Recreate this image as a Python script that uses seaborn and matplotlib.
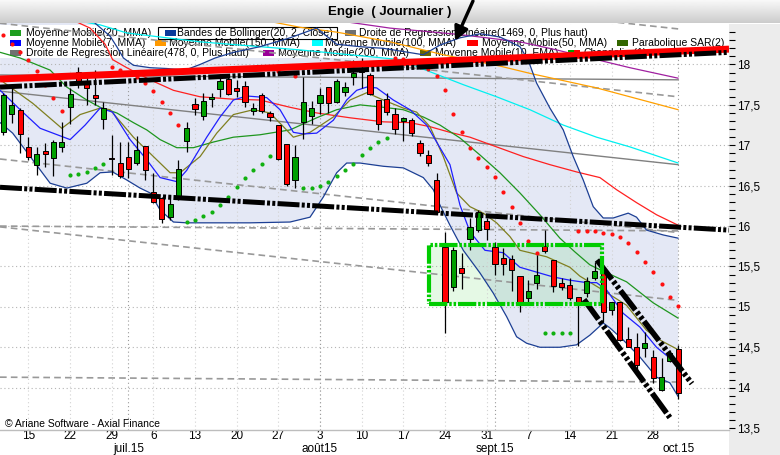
import numpy as np
import matplotlib
matplotlib.use("Agg")
import matplotlib.pyplot as plt
import matplotlib.transforms as mtransforms
from matplotlib.patches import Rectangle
from matplotlib.ticker import FuncFormatter
import seaborn as sns

sns.set_theme(style="white")
plt.rcParams["font.family"] = ["Liberation Sans", "DejaVu Sans"]

# ---------------- daily sessions (index 0 = 10 June 2015) ----------------
opens = [17.16, 17.39, 17.44, 16.98, 16.76, 16.93, 16.84, 16.98, 17.47, 17.91,
         17.78, 17.62, 17.33, 16.84, 16.78, 16.86, 16.78, 16.99, 16.42, 16.35,
         16.11, 16.34, 17.05, 17.51, 17.36, 17.57, 17.70, 17.82, 17.71, 17.73,
         17.42, 17.62, 17.40, 17.25, 17.02, 16.57, 17.29, 17.36, 17.52, 17.72,
         17.54, 17.66, 17.85, 17.96, 17.87, 17.56, 17.57, 17.39, 17.30, 17.31,
         17.03, 16.88, 16.57, 15.74, 15.25, 15.48, 15.84, 15.95, 16.06, 15.74,
         15.61, 15.59, 15.38, 15.11, 15.30, 15.75, 15.58, 15.30, 15.27, 15.12,
         15.17, 15.36, 15.42, 14.96, 15.06, 14.60, 14.50, 14.49, 14.38, 13.97,
         14.33, 14.48]
highs = [17.65, 17.75, 17.46, 17.10, 16.98, 17.03, 17.07, 17.29, 17.71, 17.97,
         17.91, 17.93, 17.54, 17.13, 17.04, 17.04, 17.12, 16.99, 16.66, 16.36,
         16.38, 16.82, 17.29, 17.59, 17.65, 17.65, 17.88, 17.85, 17.81, 17.80,
         17.52, 17.65, 17.42, 17.25, 17.02, 17.00, 17.85, 17.55, 17.71, 17.72,
         17.82, 17.78, 18.06, 18.08, 17.90, 17.56, 17.65, 17.46, 17.35, 17.34,
         17.07, 16.94, 16.66, 15.93, 15.74, 15.67, 16.10, 16.20, 16.10, 15.80,
         15.73, 15.64, 15.38, 15.33, 15.64, 15.95, 15.58, 15.36, 15.36, 15.12,
         15.37, 15.56, 15.48, 15.06, 15.06, 14.75, 14.68, 14.69, 14.47, 14.37,
         14.47, 14.53]
lows = [17.13, 17.28, 16.90, 16.82, 16.63, 16.73, 16.62, 16.92, 17.26, 17.71,
        17.50, 17.50, 17.20, 16.63, 16.60, 16.60, 16.76, 16.57, 16.29, 16.04,
        16.08, 16.32, 16.92, 17.38, 17.31, 17.47, 17.60, 17.62, 17.60, 17.47,
        17.37, 17.40, 17.30, 16.82, 16.50, 16.47, 17.08, 17.26, 17.39, 17.40,
        17.52, 17.61, 17.75, 17.71, 17.62, 17.19, 17.38, 17.14, 17.05, 17.12,
        16.87, 16.74, 16.16, 14.68, 15.20, 15.22, 15.70, 15.93, 15.83, 15.39,
        15.39, 15.20, 14.94, 15.05, 15.22, 15.67, 15.18, 15.21, 15.09, 14.52,
        15.12, 15.33, 14.81, 14.90, 14.58, 14.50, 14.22, 14.38, 14.06, 13.96,
        14.32, 13.86]
closes = [17.62, 17.50, 17.14, 16.86, 16.89, 16.89, 17.04, 17.04, 17.64, 17.76,
          17.71, 17.59, 17.46, 16.83, 16.62, 16.71, 16.94, 16.69, 16.30, 16.09,
          16.27, 16.71, 17.21, 17.45, 17.55, 17.60, 17.80, 17.63, 17.67, 17.54,
          17.46, 17.42, 17.35, 16.83, 16.52, 16.86, 17.54, 17.46, 17.62, 17.52,
          17.80, 17.72, 17.90, 17.91, 17.64, 17.26, 17.41, 17.20, 17.34, 17.15,
          16.90, 16.78, 16.17, 15.06, 15.70, 15.42, 15.99, 16.17, 15.96, 15.53,
          15.53, 15.46, 15.06, 15.20, 15.39, 15.69, 15.26, 15.25, 15.11, 15.02,
          15.32, 15.44, 14.94, 15.06, 14.59, 14.50, 14.28, 14.55, 14.12, 14.13,
          14.43, 13.93]

# parabolic SAR, one value per session
sar = [18.37, 18.25, 18.15, 18.06, 17.92, 17.75, 17.59, 17.42,
       16.63, 16.64, 16.67, 16.72, 16.77,
       17.97, 17.93, 17.89, 17.85, 17.77, 17.67, 17.54, 17.40, 17.25,
       16.05, 16.08, 16.13, 16.17, 16.26, 16.36, 16.48, 16.60, 16.69, 16.77, 16.87,
       17.92, 17.90, 17.86,
       16.47, 16.47, 16.50, 16.55, 16.62, 16.69, 16.77, 16.88, 16.97, 17.04, 17.09,
       18.08, 18.07, 18.04, 18.01, 17.94, 17.86, 17.68, 17.39, 17.16, 16.97, 16.84,
       16.73, 16.61, 16.42, 16.24, 16.04, 15.82, 15.67,
       14.68, 14.68, 14.68, 14.68,
       15.94, 15.94, 15.94, 15.91, 15.90, 15.86, 15.79, 15.68, 15.56, 15.43,
       15.28, 15.12, 15.01]

# moving averages and Bollinger bands (session position, price)
ma7_x = [-0.4, 2.0, 4.4, 8.0, 9.8, 11.6, 13.1, 15.2, 17.2, 18.8, 20.8, 22.0, 24.4,
         26.0, 27.6, 29.2, 31.6, 33.2, 34.8, 36.0, 37.6, 39.6, 41.2, 42.4, 43.6,
         44.8, 46.8, 48.8, 50.8, 52.0, 53.6, 54.8, 56.0, 57.8, 60.0, 62.0, 64.0,
         66.0, 68.0, 70.0, 71.2, 72.4, 74.4, 76.4, 78.4, 81.0]
ma7_y = [17.68, 17.44, 17.21, 17.07, 17.25, 17.46, 17.41, 17.07, 16.82, 16.60,
         16.55, 16.69, 17.10, 17.35, 17.56, 17.61, 17.59, 17.44, 17.16, 17.14,
         17.15, 17.31, 17.56, 17.68, 17.72, 17.71, 17.56, 17.44, 17.25, 17.04,
         16.76, 16.26, 15.93, 15.70, 15.67, 15.49, 15.43, 15.37, 15.33, 15.30,
         15.30, 15.21, 14.92, 14.75, 14.50, 14.28]

ema10_x = [-0.4, 3.5, 7.0, 9.2, 11.6, 12.8, 15.6, 18.0, 20.0, 21.2, 23.6, 25.6,
           27.6, 30.0, 32.0, 33.6, 34.8, 36.8, 39.6, 41.6, 43.6, 45.6, 48.0, 49.6,
           51.2, 52.8, 54.4, 56.0, 57.6, 59.2, 60.8, 62.0, 65.2, 68.0, 69.2, 71.6,
           74.8, 77.2, 78.8, 81.0]
ema10_y = [17.81, 17.52, 17.21, 17.38, 17.46, 17.44, 17.10, 16.86, 16.66, 16.66,
           16.86, 17.15, 17.38, 17.44, 17.40, 17.23, 17.10, 17.16, 17.35, 17.56,
           17.65, 17.56, 17.46, 17.41, 17.23, 16.86, 16.41, 16.24, 16.16, 16.04,
           15.87, 15.70, 15.62, 15.49, 15.38, 15.23, 15.02, 14.71, 14.59, 14.47]

ma20_x = [-0.4, 2.0, 5.6, 7.6, 10.0, 11.6, 13.6, 15.6, 17.2, 18.8, 20.8, 22.8,
          25.2, 27.6, 30.8, 34.4, 37.6, 40.0, 42.8, 45.6, 48.0, 50.4, 52.4, 54.8,
          57.2, 59.6, 62.0, 64.4, 66.8, 68.6, 70.4, 71.6, 74.8, 78.0, 81.0]
ma20_y = [18.15, 18.08, 17.93, 17.72, 17.56, 17.47, 17.40, 17.28, 17.19, 17.07,
          16.97, 16.97, 17.04, 17.10, 17.13, 17.19, 17.34, 17.44, 17.50, 17.47,
          17.44, 17.35, 17.25, 17.09, 16.88, 16.66, 16.41, 16.14, 15.85, 15.68,
          15.52, 15.46, 15.31, 15.05, 14.86]

bb_up_x = [-0.4, 5.6, 10.0, 12.8, 13.6, 14.4, 15.6, 17.6, 19.6, 21.8, 23.6, 25.4,
           27.6, 30.8, 34.4, 37.6, 40.0, 42.8, 45.6, 48.0, 50.4, 52.4, 54.8, 57.2,
           59.6, 62.0, 63.0, 64.0, 65.6, 67.2, 68.4, 69.6, 70.8, 72.0, 73.2, 75.0,
           76.0, 77.2, 79.2, 81.0]
bb_up_y = [19.00, 19.30, 18.60, 18.35, 18.22, 18.08, 17.99, 17.96, 17.95, 17.93,
           18.00, 18.08, 18.15, 18.22, 18.33, 18.45, 18.25, 18.22, 18.20, 18.16,
           18.12, 18.24, 18.33, 18.38, 18.34, 18.22, 18.05, 17.77, 17.46, 17.19,
           16.86, 16.57, 16.24, 16.10, 16.10, 16.16, 16.11, 15.95, 15.89, 15.85]
bb_lo_x = [-0.4, 1.1, 3.5, 5.6, 7.6, 10.0, 11.6, 13.1, 14.8, 16.4, 17.6, 18.8,
           20.4, 22.0, 29.6, 34.4, 36.8, 38.4, 40.0, 41.2, 42.8, 45.6, 48.0, 50.4,
           51.6, 52.4, 53.6, 55.2, 57.2, 58.8, 60.4, 61.6, 62.8, 64.4, 66.8, 68.8,
           70.4, 72.0, 72.8, 74.4, 76.4, 78.4, 80.0, 81.0]
bb_lo_y = [17.28, 17.15, 16.82, 16.53, 16.47, 16.53, 16.66, 16.67, 16.57, 16.47,
           16.41, 16.20, 16.05, 16.04, 16.04, 16.05, 16.11, 16.36, 16.66, 16.78,
           16.78, 16.74, 16.72, 16.60, 16.45, 16.26, 16.01, 15.70, 15.42, 15.17,
           14.88, 14.63, 14.55, 14.50, 14.50, 14.53, 14.65, 14.80, 14.74, 14.59,
           14.38, 14.13, 14.06, 13.89]

ma50_x = [-0.4, 6.8, 10.4, 12.2, 13.1, 14.8, 17.6, 20.4, 23.6, 27.6, 30.8, 34.4,
          37.6, 41.6, 45.6, 48.8, 51.2, 53.6, 56.0, 59.2, 62.4, 65.6, 68.8, 71.6,
          73.6, 76.0, 78.4, 81.0]
ma50_y = [18.75, 18.62, 18.45, 18.25, 18.06, 17.96, 17.81, 17.68, 17.60, 17.57,
          17.56, 17.47, 17.40, 17.34, 17.29, 17.28, 17.23, 17.16, 17.10, 16.98,
          16.86, 16.76, 16.67, 16.60, 16.45, 16.29, 16.14, 16.01]

ma100_x = [-0.4, 6.8, 11.6, 14.8, 23.6, 35.6, 47.6, 51.2, 55.2, 59.2, 63.2, 67.2,
           71.2, 75.2, 81.0]
ma100_y = [18.65, 18.58, 18.49, 18.39, 18.28, 18.18, 18.06, 17.91, 17.75, 17.60,
           17.44, 17.25, 17.10, 16.98, 16.78]

ma150_x = [-0.4, 15.0, 29.6, 35.6, 40.0, 46.4, 52.8, 59.6, 63.2, 71.2, 75.2, 81.0]
ma150_y = [18.95, 18.80, 18.58, 18.46, 18.40, 18.28, 18.12, 17.98, 17.89, 17.71,
           17.60, 17.44]

ma200_x = [-0.4, 20.0, 35.6, 46.4, 54.8, 62.0, 66.4, 71.2, 75.2, 81.0]
ma200_y = [18.95, 18.80, 18.61, 18.45, 18.37, 18.28, 18.18, 18.06, 17.96, 17.83]

# linear regressions: centre line at both ends, channel step
reg_x = [-0.42, 81.0]
reg478_center = [17.67, 16.76]
reg478_step = 0.84
reg1469_center = [17.87, 17.81]
reg1469_step = 1.87

# drawn trend lines and zone
trend_x = [-0.42, 87.1]
resistance_black = [17.72, 18.15]
resistance_red = [17.82, 18.19]
support_black = [16.48, 15.95]
wedge_top_x = [71.25, 82.65]
wedge_top_y = [15.58, 14.05]
wedge_bot_x = [69.7, 80.0]
wedge_bot_y = [15.09, 13.63]
zone_x = [51.1, 71.9]
zone_y = [15.04, 15.77]

# axis labels
week_starts = [3, 8, 13, 18, 23, 28, 33, 38, 43, 48, 53, 58, 63, 68, 73, 78]
week_labels = ["15", "22", "29", "6", "13", "20", "27", "3", "10", "17", "24",
               "31", "7", "14", "21", "28"]
month_starts = [15, 38, 59, 81]
month_labels = ["juil.15", "août15", "sept.15", "oct.15"]

legend_labels = ["Moyenne Mobile(20, MMA)", "Bandes de Bollinger(20, 2, Close)",
                 "Droite de Regression Linéaire(1469, 0, Plus haut)",
                 "Moyenne Mobile(7, MMA)", "Moyenne Mobile(150, MMA)",
                 "Moyenne Mobile(100, MMA)", "Moyenne Mobile(50, MMA)",
                 "Parabolique SAR(2)",
                 "Droite de Regression Linéaire(478, 0, Plus haut)",
                 "Moyenne Mobile(200, MMA)", "Moyenne Mobile(10, EMA)",
                 "Chandelier(1)"]
legend_colors = ["#1E9E1E", "#0A3A9A", "#707070", "#0000FF", "#FF9900", "#00FFFF",
                 "#FF0000", "#336600", "#707070", "#990099", "#666600", "#00A000"]

# ---------------- figure frame ----------------
W, H = 780, 455
PX_L, PX_R, PX_T, PX_B = 0.0, 729.0, 23.5, 430.0
fig = plt.figure(figsize=(W / 100, H / 100), dpi=100, facecolor="white")

fig.add_artist(Rectangle((PX_R / W, 0), 1 - PX_R / W, 1 - PX_T / H,
                         transform=fig.transFigure, facecolor="#ECECEC",
                         edgecolor="none", zorder=-1))

bar_ax = fig.add_axes([0, 1 - PX_T / H, 1, PX_T / H])
bar_ax.imshow(np.linspace(0.98, 0.80, 40).reshape(-1, 1), cmap="gray", vmin=0, vmax=1,
              aspect="auto", extent=[0, 1, 0, 1])
bar_ax.axis("off")
fig.text(0.5, 1 - 12.5 / H, "Engie  ( Journalier )", ha="center", va="center",
         fontsize=9.5, fontweight="bold", color="black")

ax = fig.add_axes([PX_L / W, 1 - PX_B / H, (PX_R - PX_L) / W, (PX_B - PX_T) / H])
ax.set_facecolor("white")
ax.set_xlim(-0.42, 87.1)
ax.set_ylim(13.476, 18.507)


def axpos(px, py):
    return (px - PX_L) / (PX_R - PX_L), (PX_B - py) / (PX_B - PX_T)


# Bollinger envelope
ax.fill(bb_up_x + bb_lo_x[::-1], bb_up_y + bb_lo_y[::-1], color="#E4E8F5", lw=0,
        zorder=0.3)
# zone fill
ax.add_patch(Rectangle((zone_x[0], zone_y[0]), zone_x[1] - zone_x[0], zone_y[1] - zone_y[0],
                       facecolor=(0.0, 0.78, 0.0, 0.10), edgecolor="none", zorder=0.4))

# grid
for lvl in np.arange(14.0, 18.01, 0.5):
    ax.axhline(lvl, color="#B4B4B4", lw=0.8, dashes=(1, 2.5), zorder=0.6)
for s in week_starts:
    ax.axvline(s, color="#D2D2D2", lw=0.8, dashes=(1, 2.5), zorder=0.6)
for s in month_starts:
    ax.axvline(s, color="#9A9A9A", lw=0.8, dashes=(1, 2.5), zorder=0.6)

# legend block (lines run over it)
x0, y0 = axpos(0, 58)
x1, y1 = axpos(PX_R, 25)
ax.add_patch(Rectangle((x0, y0), x1 - x0, y1 - y0, transform=ax.transAxes,
                       facecolor="white", edgecolor="none", zorder=0.9))
slots = [(10, 26, 33), (165, 177, 33), (345, 359, 33),
         (10, 26, 43), (155, 169, 43), (312, 325, 43), (467, 482, 43), (617, 632, 43),
         (10, 26, 53), (263, 278, 53), (420, 435, 53), (568, 583, 53)]
sw, sh = 11 / (PX_R - PX_L), 6 / (PX_B - PX_T)
for (sq, tx, row), lab, col in zip(slots, legend_labels, legend_colors):
    qx, qy = axpos(sq, row + 3)
    ax.add_patch(Rectangle((qx, qy), sw, sh, transform=ax.transAxes, facecolor=col,
                           edgecolor="none", zorder=1.1))
    tx_, ty_ = axpos(tx, row)
    ax.text(tx_, ty_, lab, transform=ax.transAxes, fontsize=7.5, va="center", ha="left",
            color="black", zorder=1.2)
bx0, by0 = axpos(158, 39.5)
bx1, by1 = axpos(337, 27.5)
ax.add_patch(Rectangle((bx0, by0), bx1 - bx0, by1 - by0, transform=ax.transAxes,
                       facecolor="none", edgecolor="black", lw=0.8, zorder=1.2))
qx, qy = axpos(574, 56)
ax.add_patch(Rectangle((qx, qy), sw / 2, sh, transform=ax.transAxes, facecolor="#FF0000",
                       edgecolor="none", zorder=1.15))

# regression lines and channels
def reg_lines(center, step, ks):
    ax.plot(reg_x, center, color="#808080", lw=1.0, zorder=2)
    for k in ks:
        ax.plot(reg_x, [c + k * step for c in center], color="#999999", lw=1.2,
                dashes=(4, 2.5), zorder=2)


reg_lines(reg1469_center, reg1469_step, [1, -1, -2])
reg_lines(reg478_center, reg478_step, [2, 1, -1, -2])


# averages and bands
def trace(xs, ys, color, lw=0.9, z=3):
    sns.lineplot(x=xs, y=ys, ax=ax, color=color, linewidth=lw, estimator=None,
                 sort=False, legend=False, zorder=z)


trace(ma200_x, ma200_y, "#A020A0")
trace(ma150_x, ma150_y, "#FFA000")
trace(ma100_x, ma100_y, "#00F0F0")
trace(ma50_x, ma50_y, "#FF2020")
trace(bb_up_x, bb_up_y, "#1C3F94")
trace(bb_lo_x, bb_lo_y, "#1C3F94")
trace(ma20_x, ma20_y, "#1E961E")
trace(ema10_x, ema10_y, "#7F7F1F")
trace(ma7_x, ma7_y, "#1F1FFF")

# parabolic SAR
sessions = np.arange(len(opens))
sar_arr = np.array(sar)
close_arr = np.array(closes)
above = sar_arr > close_arr
sns.scatterplot(x=sessions[above], y=sar_arr[above], ax=ax, color="#FF1010", s=9,
                linewidth=0, legend=False, zorder=3.5)
sns.scatterplot(x=sessions[~above], y=sar_arr[~above], ax=ax, color="#10B010", s=9,
                linewidth=0, legend=False, zorder=3.5)

# candles
o = np.array(opens)
c = close_arr
rising = c >= o
ax.vlines(sessions, lows, highs, color="black", linewidth=0.9, zorder=4.5)
ax.bar(sessions, np.maximum(np.abs(c - o), 0.012), bottom=np.minimum(o, c), width=0.62,
       color=np.where(rising, "#00A000", "#FF0000"), edgecolor="black", linewidth=0.7,
       zorder=5)

# drawn trend lines
DASH = [4.4, 0.45, 0.6, 0.45, 0.6, 0.45]


def trend(xs, ys, color, lw, dashed=True):
    ln, = ax.plot(xs, ys, color=color, lw=lw, solid_capstyle="butt",
                  dash_capstyle="butt", zorder=6)
    if dashed:
        ln.set_dashes(DASH)


trend(trend_x, resistance_red, "#FF0000", 5.0, dashed=False)
trend(trend_x, resistance_black, "black", 3.6)
trend(trend_x, support_black, "black", 3.6)
trend(wedge_top_x, wedge_top_y, "black", 4.0)
trend(wedge_bot_x, wedge_bot_y, "black", 4.0)
ax.add_patch(Rectangle((zone_x[0], zone_y[0]), zone_x[1] - zone_x[0], zone_y[1] - zone_y[0],
                       facecolor="none", edgecolor="#00CC00", lw=3.0,
                       linestyle=(0, DASH), zorder=6))

arrow = ax.annotate("", xy=(455, H - 41), xycoords="figure pixels", xytext=(473, H - 1),
                    textcoords="figure pixels",
                    arrowprops=dict(arrowstyle="-|>,head_length=0.7,head_width=0.35",
                                    color="black", lw=2.4, shrinkA=0, shrinkB=0),
                    annotation_clip=False, zorder=8)
arrow.arrow_patch.set_clip_on(False)

cx, cy = axpos(5, 424)
ax.text(cx, cy, "© Ariane Software - Axial Finance", transform=ax.transAxes,
        fontsize=7.5, va="center", ha="left", color="black", zorder=7)

# axes
for side in ["top", "left", "right"]:
    ax.spines[side].set_visible(False)
ax.spines["bottom"].set_color("#BDBDBD")
ax.spines["bottom"].set_linewidth(1.0)

ax.yaxis.tick_right()
ax.set_yticks(np.arange(13.5, 18.01, 0.5))
ax.set_yticks(np.arange(13.5, 18.45, 0.1), minor=True)
ax.yaxis.set_major_formatter(FuncFormatter(lambda v, p: f"{v:g}".replace(".", ",")))
ax.tick_params(axis="y", which="both", left=False, right=True, labelleft=False,
               labelright=True, direction="out", length=4, width=0.8, colors="black",
               labelsize=8.5, pad=2)

ax.set_xticks(week_starts)
ax.set_xticklabels(week_labels)
ax.tick_params(axis="x", which="both", bottom=False, length=0, pad=0.3, labelsize=8.5,
               colors="black")
ax.set_xlabel("")
ax.set_ylabel("")
blend = mtransforms.blended_transform_factory(ax.transData, ax.transAxes)
for s, lab in zip(month_starts, month_labels):
    ax.text(s, (PX_B - 449.0) / (PX_B - PX_T), lab, transform=blend, ha="center",
            va="center", fontsize=8.5, color="black", clip_on=False)

fig.savefig("out.png", dpi=100, facecolor="white")
